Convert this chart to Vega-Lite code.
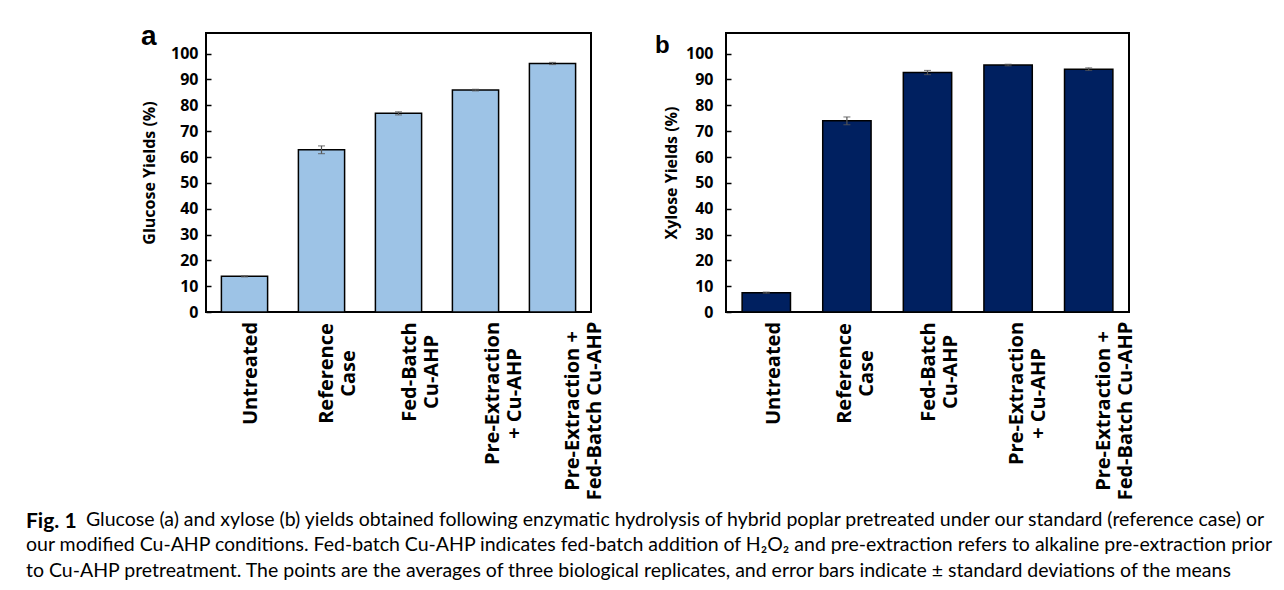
{
  "$schema": "https://vega.github.io/schema/vega-lite/v6.json",
  "padding": {"left": 26, "top": 22, "right": 0, "bottom": 0},
  "autosize": {"type": "pad"},
  "background": "white",
  "datasets": {
    "glucose": [
      {"treatment": "Untreated", "yield": 13.8, "sd": 0.2},
      {"treatment": "Reference|Case", "yield": 62.8, "sd": 1.5},
      {"treatment": "Fed-Batch|Cu-AHP", "yield": 76.9, "sd": 0.6},
      {"treatment": "Pre-Extraction|+ Cu-AHP", "yield": 85.9, "sd": 0.3},
      {"treatment": "Pre-Extraction +|Fed-Batch Cu-AHP", "yield": 96.2, "sd": 0.4}
    ],
    "xylose": [
      {"treatment": "Untreated", "yield": 7.5, "sd": 0.2},
      {"treatment": "Reference|Case", "yield": 74.0, "sd": 1.5},
      {"treatment": "Fed-Batch|Cu-AHP", "yield": 92.7, "sd": 0.8},
      {"treatment": "Pre-Extraction|+ Cu-AHP", "yield": 95.6, "sd": 0.3},
      {"treatment": "Pre-Extraction +|Fed-Batch Cu-AHP", "yield": 94.0, "sd": 0.5}
    ]
  },
  "title": {
    "text": "Fig. 1",
    "subtitle": [
      "\u200b\u00a0\u00a0\u00a0\u00a0\u00a0\u00a0\u00a0\u00a0\u00a0\u00a0\u00a0\u00a0Glucose (a) and xylose (b) yields obtained following enzymatic hydrolysis of hybrid poplar pretreated under our standard (reference case) or",
      "our modified Cu-AHP conditions. Fed-batch Cu-AHP indicates fed-batch addition of H₂O₂ and pre-extraction refers to alkaline pre-extraction prior",
      "to Cu-AHP pretreatment. The points are the averages of three biological replicates, and error bars indicate ± standard deviations of the means"
    ],
    "orient": "bottom",
    "anchor": "start",
    "frame": "bounds",
    "font": "Lato",
    "fontSize": 21,
    "fontWeight": "bold",
    "color": "black",
    "subtitleFont": "Lato",
    "subtitleFontSize": 19.5,
    "subtitleFontWeight": "normal",
    "subtitleColor": "black",
    "subtitleLineHeight": 25.5,
    "subtitlePadding": -21,
    "dx": -114,
    "offset": 10
  },
  "bounds": "flush",
  "spacing": 135,
  "hconcat": [
    {
      "width": 385,
      "height": 279,
      "data": {"name": "glucose"},
      "title": {"text": "a", "anchor": "start", "frame": "group", "font": "Liberation Sans", "fontSize": 28, "fontWeight": "bold", "color": "black", "baseline": "alphabetic", "offset": 0, "dx": -65, "dy": 40},
      "view": {"stroke": "black", "strokeWidth": 2},
      "encoding": {
        "x": {
          "field": "treatment", "type": "nominal", "sort": null,
          "scale": {"paddingInner": 0.4, "paddingOuter": 0.2},
          "axis": {
            "title": null, "labelAngle": -90, "labelAlign": "center", "labelBaseline": "middle",
            "labelExpr": "split(datum.label, '|')", "labelFont": "Open Sans", "labelFontWeight": "bold", "labelFontSize": 20, "labelColor": "black", "labelLineHeight": 22, "ticks": false, "domain": false, "labelLimit": 400,
            "labelPadding": {"condition": [
              {"test": "datum.value == 'Untreated'", "value": 61},
              {"test": "datum.value == 'Reference|Case'", "value": 61},
              {"test": "datum.value == 'Fed-Batch|Cu-AHP'", "value": 59.5},
              {"test": "datum.value == 'Pre-Extraction|+ Cu-AHP'", "value": 81}
            ], "value": 98.5},
            "labelOffset": {"condition": [
              {"test": "datum.value == 'Untreated'", "value": 6},
              {"test": "datum.value == 'Reference|Case'", "value": 5},
              {"test": "datum.value == 'Fed-Batch|Cu-AHP'", "value": 11},
              {"test": "datum.value == 'Pre-Extraction|+ Cu-AHP'", "value": 17}
            ], "value": 20}
          }
        },
        "y": {
          "field": "yield", "type": "quantitative",
          "scale": {"domain": [0, 108], "nice": false},
          "axis": {"title": "Glucose Yields (%)", "titleFont": "Open Sans", "titleFontSize": 16, "titleFontWeight": "bold", "titleColor": "black", "titlePadding": 13, "values": [0, 10, 20, 30, 40, 50, 60, 70, 80, 90, 100], "labelFont": "Open Sans", "labelFontWeight": "bold", "labelFontSize": 16, "labelColor": "black", "tickSize": -5, "tickColor": "black", "tickWidth": 1.5, "domain": false, "grid": false, "labelPadding": 13}
        }
      },
      "layer": [
        {
          "mark": {"type": "bar", "fill": "#9DC3E6", "stroke": "black", "strokeWidth": 1.5}
        },
        {
          "mark": {"type": "errorbar", "ticks": {"size": 7, "color": "#555"}, "color": "#555", "thickness": 1.2},
          "encoding": {
            "yError": {"field": "sd"}
          }
        }
      ]
    },
    {
      "width": 403,
      "height": 279,
      "data": {"name": "xylose"},
      "title": {"text": "b", "anchor": "start", "frame": "group", "font": "Liberation Sans", "fontSize": 24, "fontWeight": "bold", "color": "black", "baseline": "alphabetic", "offset": 0, "dx": -71, "dy": 44},
      "view": {"stroke": "black", "strokeWidth": 2},
      "encoding": {
        "x": {
          "field": "treatment", "type": "nominal", "sort": null,
          "scale": {"paddingInner": 0.4, "paddingOuter": 0.2},
          "axis": {
            "title": null, "labelAngle": -90, "labelAlign": "center", "labelBaseline": "middle",
            "labelExpr": "split(datum.label, '|')", "labelFont": "Open Sans", "labelFontWeight": "bold", "labelFontSize": 20, "labelColor": "black", "labelLineHeight": 22, "ticks": false, "domain": false, "labelLimit": 400,
            "labelPadding": {"condition": [
              {"test": "datum.value == 'Untreated'", "value": 61},
              {"test": "datum.value == 'Reference|Case'", "value": 61},
              {"test": "datum.value == 'Fed-Batch|Cu-AHP'", "value": 59.5},
              {"test": "datum.value == 'Pre-Extraction|+ Cu-AHP'", "value": 81}
            ], "value": 98.5},
            "labelOffset": {"condition": [
              {"test": "datum.value == 'Untreated'", "value": 8},
              {"test": "datum.value == 'Reference|Case'", "value": -2},
              {"test": "datum.value == 'Fed-Batch|Cu-AHP'", "value": 1},
              {"test": "datum.value == 'Pre-Extraction|+ Cu-AHP'", "value": 9}
            ], "value": 15}
          }
        },
        "y": {
          "field": "yield", "type": "quantitative",
          "scale": {"domain": [0, 108], "nice": false},
          "axis": {"title": "Xylose Yields (%)", "titleFont": "Open Sans", "titleFontSize": 16, "titleFontWeight": "bold", "titleColor": "black", "titlePadding": 6, "values": [0, 10, 20, 30, 40, 50, 60, 70, 80, 90, 100], "labelFont": "Open Sans", "labelFontWeight": "bold", "labelFontSize": 16, "labelColor": "black", "tickSize": -5, "tickColor": "black", "tickWidth": 1.5, "domain": false, "grid": false, "labelPadding": 18}
        }
      },
      "layer": [
        {
          "mark": {"type": "bar", "fill": "#002060", "stroke": "black", "strokeWidth": 1.5}
        },
        {
          "mark": {"type": "errorbar", "ticks": {"size": 7, "color": "#555"}, "color": "#555", "thickness": 1.2},
          "encoding": {
            "yError": {"field": "sd"}
          }
        }
      ]
    }
  ]
}
